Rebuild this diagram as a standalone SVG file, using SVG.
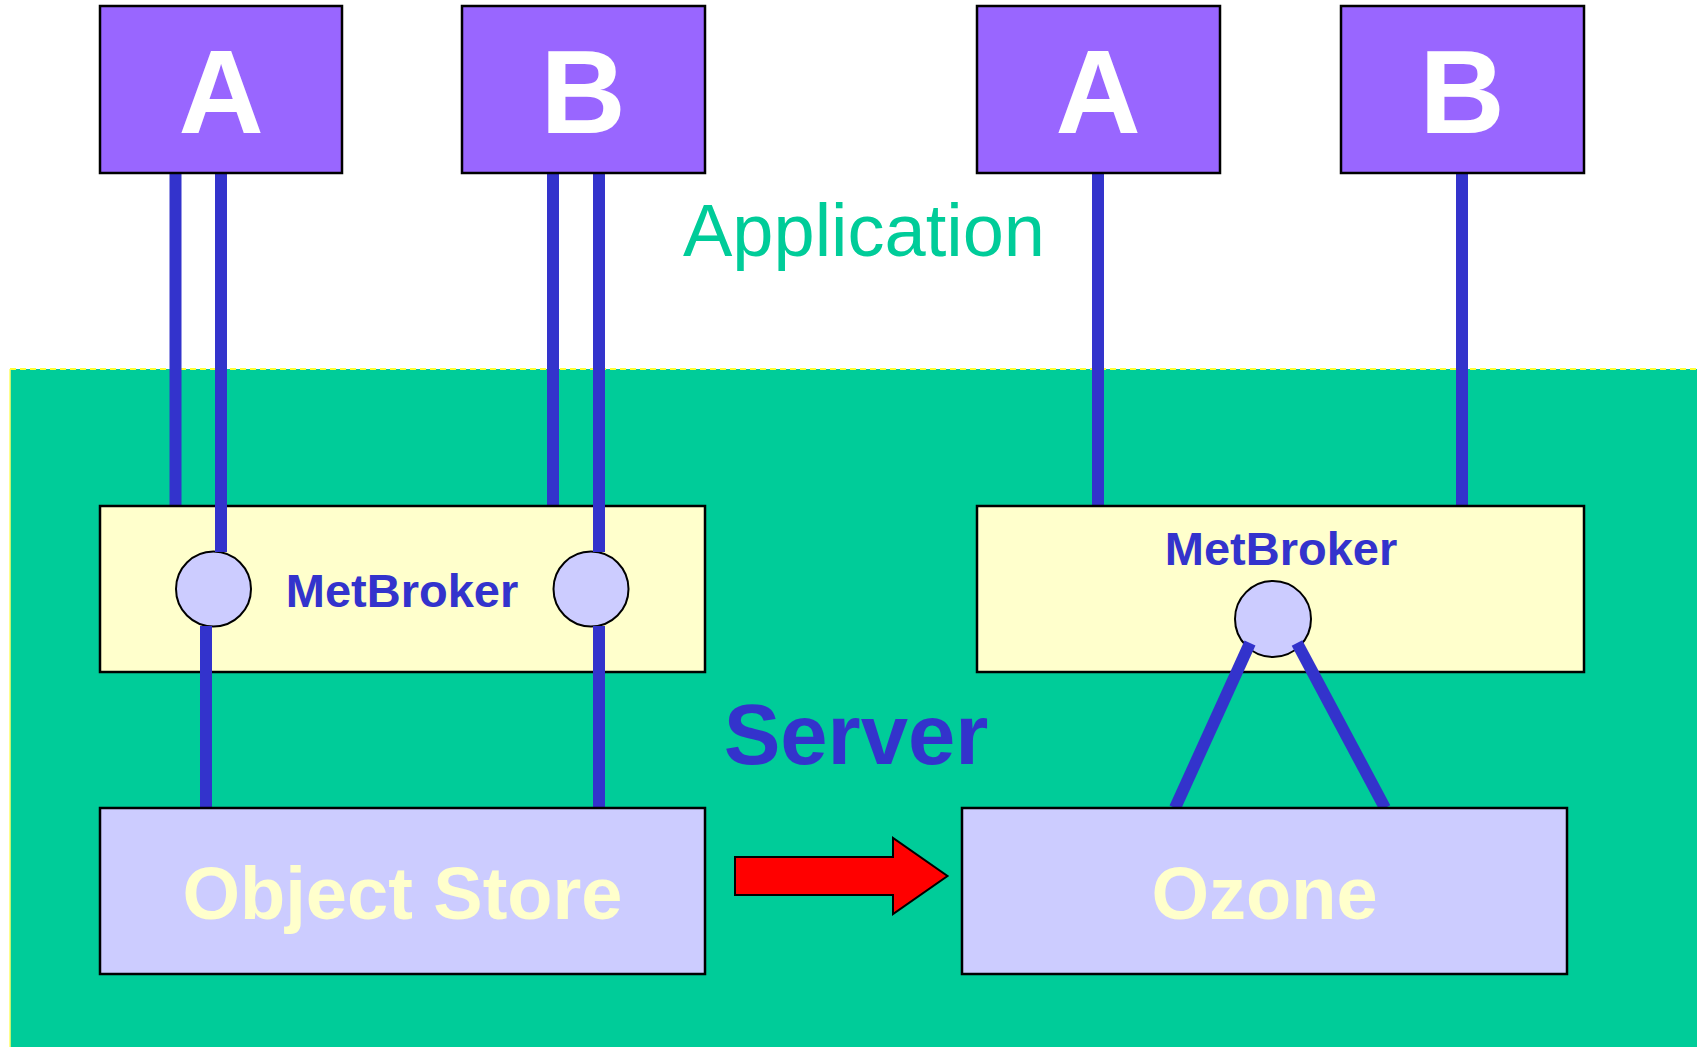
<svg xmlns="http://www.w3.org/2000/svg" width="1697" height="1047" viewBox="0 0 1697 1047">
<style>
.app{fill:#9966FF;stroke:#000;stroke-width:2.5}
.letter{font-family:"Liberation Sans",Arial,sans-serif;font-weight:bold;font-size:118px;fill:#FFFFFF;text-anchor:middle}
.broker{fill:#FFFFCC;stroke:#000;stroke-width:2.5}
.store{fill:#CCCCFF;stroke:#000;stroke-width:2.5}
.port{fill:#CCCCFF;stroke:#000;stroke-width:2}
.mb{font-family:"Liberation Sans",Arial,sans-serif;font-weight:bold;font-size:47px;fill:#3333CC;text-anchor:middle}
.st{font-family:"Liberation Sans",Arial,sans-serif;font-weight:bold;font-size:74px;fill:#FFFFCC;text-anchor:middle}
.wire{stroke:#3333CC;stroke-width:12;fill:none}
</style>
<rect x="0" y="0" width="1697" height="1047" fill="#FFFFFF"/>
<g id="server-area">
<rect x="10" y="369" width="1687" height="678" fill="#00CC99"/>
<line x1="10" y1="369" x2="1697" y2="369" stroke="#FFFF33" stroke-width="2" stroke-dasharray="6,4"/>
<line x1="10" y1="369" x2="10" y2="1047" stroke="#FFFF66" stroke-width="1.5"/>
</g>
<text x="864" y="256" font-family="'Liberation Sans',Arial,sans-serif" font-size="74" fill="#00CC99" text-anchor="middle">Application</text>
<text x="856" y="764" font-family="'Liberation Sans',Arial,sans-serif" font-weight="bold" font-size="85" fill="#3333CC" text-anchor="middle">Server</text>
<g id="connectors">
<line class="wire" x1="175.5" y1="173" x2="175.5" y2="506"/>
<line class="wire" x1="221" y1="173" x2="221" y2="552"/>
<line class="wire" x1="553" y1="173" x2="553" y2="506"/>
<line class="wire" x1="599" y1="173" x2="599" y2="552"/>
<line class="wire" x1="206" y1="626" x2="206" y2="808"/>
<line class="wire" x1="599" y1="626" x2="599" y2="808"/>
<line class="wire" x1="1098" y1="173" x2="1098" y2="506"/>
<line class="wire" x1="1462" y1="173" x2="1462" y2="506"/>
<polygon points="735,857 893,857 893,838 947.5,876 893,914 893,895 735,895" fill="#FF0000" stroke="#000" stroke-width="2"/>
</g>
<g id="appA1"><rect class="app" x="100" y="6" width="242" height="167"/><text class="letter" x="221" y="133">A</text></g>
<g id="appB1"><rect class="app" x="462" y="6" width="243" height="167"/><text class="letter" x="583" y="133">B</text></g>
<g id="appA2"><rect class="app" x="977" y="6" width="243" height="167"/><text class="letter" x="1098" y="133">A</text></g>
<g id="appB2"><rect class="app" x="1341" y="6" width="243" height="167"/><text class="letter" x="1462" y="133">B</text></g>
<g id="metbroker1">
<rect class="broker" x="100" y="506" width="605" height="166"/>
<text class="mb" x="402" y="607">MetBroker</text>
<ellipse class="port" cx="213.5" cy="589" rx="37.5" ry="37.5"/>
<ellipse class="port" cx="591" cy="589" rx="37.5" ry="37.5"/>
<line class="wire" x1="221" y1="503" x2="221" y2="552"/>
<line class="wire" x1="599" y1="503" x2="599" y2="552"/>
<line class="wire" x1="206" y1="626" x2="206" y2="675"/>
<line class="wire" x1="599" y1="626" x2="599" y2="675"/>
</g>
<g id="metbroker2">
<rect class="broker" x="977" y="506" width="607" height="166"/>
<text class="mb" x="1281" y="565">MetBroker</text>
<ellipse class="port" cx="1273" cy="619" rx="38" ry="38"/>
</g>
<g id="connectors2">
<line class="wire" x1="1250" y1="643" x2="1175" y2="808"/>
<line class="wire" x1="1297" y1="643" x2="1385" y2="808"/>
</g>
<g id="objectstore"><rect class="store" x="100" y="808" width="605" height="166"/><text class="st" x="402.5" y="919">Object Store</text></g>
<g id="ozone"><rect class="store" x="962" y="808" width="605" height="166"/><text class="st" x="1264.5" y="919">Ozone</text></g>
</svg>
